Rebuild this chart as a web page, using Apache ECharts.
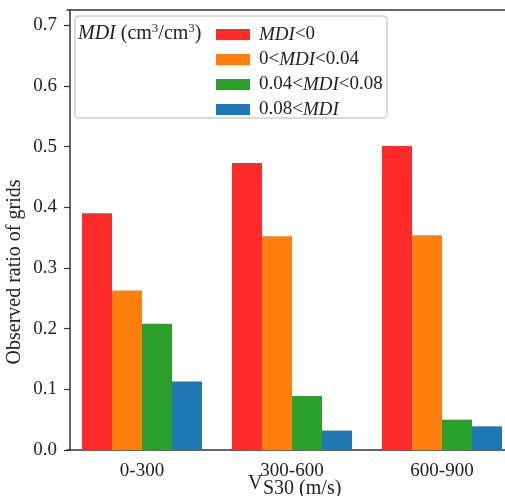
<!DOCTYPE html>
<html><head><meta charset="utf-8">
<script src="https://cdn.jsdelivr.net/npm/echarts@6/dist/echarts.min.js"></script>
<style>html,body{margin:0;padding:0;background:#fff}#c{width:505px;height:496px}</style>
</head><body><div id="c"></div>
<script>
const categories = ['0-300', '300-600', '600-900'];
const seriesNames = ['MDI<0', '0<MDI<0.04', '0.04<MDI<0.08', '0.08<MDI'];
const mdiNeg = [0.390, 0.473, 0.501];
const mdi0to004 = [0.263, 0.352, 0.354];
const mdi004to008 = [0.208, 0.089, 0.050];
const mdiAbove008 = [0.113, 0.032, 0.039];
const colors = ['#ff2a2a', '#ff7f0e', '#2ca02c', '#1f77b4'];
const yTicks = [0, 0.1, 0.2, 0.3, 0.4, 0.5, 0.6, 0.7];

const FONT = '"Liberation Serif", "DejaVu Serif", serif';
const values = [mdiNeg, mdi0to004, mdi004to008, mdiAbove008];
const legendFmt = {
  'MDI<0': '{i|MDI}<0',
  '0<MDI<0.04': '0<{i|MDI}<0.04',
  '0.04<MDI<0.08': '0.04<{i|MDI}<0.08',
  '0.08<MDI': '0.08<{i|MDI}'
};
const chart = echarts.init(document.getElementById('c'), null, {renderer: 'canvas'});
chart.setOption({
  animation: false,
  backgroundColor: '#fff',
  textStyle: {fontFamily: FONT},
  grid: {left: 67, top: 10, width: 450, height: 440, containLabel: false, outerBoundsMode: 'none'},
  xAxis: [{
    type: 'category', data: categories, position: 'bottom',
    axisLine: {lineStyle: {color: '#333', width: 1.5}},
    axisTick: {alignWithLabel: true, length: 6, lineStyle: {color: '#333', width: 1.2}},
    axisLabel: {fontFamily: FONT, fontSize: 19, color: '#222', margin: 12}
  }, {
    type: 'category', data: categories, position: 'top',
    axisLine: {lineStyle: {color: '#333', width: 1.5}},
    axisTick: {show: false}, axisLabel: {show: false}
  }],
  yAxis: {
    type: 'value', min: 0, max: 0.725, interval: 0.1, offset: -3,
    splitLine: {show: false},
    axisLine: {show: true, lineStyle: {color: '#333', width: 1.5}},
    axisTick: {show: true, length: 6, lineStyle: {color: '#333', width: 1.2}},
    axisLabel: {fontFamily: FONT, fontSize: 19, color: '#222', margin: 13, showMaxLabel: false,
      formatter: v => yTicks.some(t => Math.abs(t - v) < 1e-9) ? v.toFixed(1) : ''}
  },
  legend: {
    orient: 'vertical', left: 211, top: 20, icon: 'rect',
    itemWidth: 34, itemHeight: 11, itemGap: 6,
    data: seriesNames,
    formatter: n => legendFmt[n],
    textStyle: {fontFamily: FONT, fontSize: 19, color: '#222', padding: [0, 0, 0, 4],
      rich: {i: {fontFamily: FONT, fontSize: 19, fontStyle: 'italic', color: '#222'}}}
  },
  graphic: [
    {type: 'rect', z: 1, shape: {x: 75, y: 16, width: 312, height: 102, r: 4},
     style: {fill: 'rgba(255,255,255,0.85)', stroke: '#cfcfcf', lineWidth: 1.5}},
    {type: 'text', z: 5, x: 78, y: 22,
     style: {text: '{i|MDI}{n| (cm}{s|3}{n|/cm}{s|3}{n|)}', fontFamily: FONT, fill: '#222',
       verticalAlign: 'top',
       rich: {i: {fontStyle: 'italic', fontSize: 20, lineHeight: 22, fontFamily: FONT, verticalAlign: 'bottom'},
              n: {fontSize: 20, lineHeight: 22, fontFamily: FONT, verticalAlign: 'bottom'},
              s: {fontSize: 13, lineHeight: 12, verticalAlign: 'top', fontFamily: FONT}}}},
    {type: 'text', x: 15, y: 272, rotation: Math.PI / 2,
     style: {text: 'Observed ratio of grids', fontFamily: FONT, fontSize: 20, fill: '#222',
       align: 'center', verticalAlign: 'middle'}},
    {type: 'text', x: 248, y: 484,
     style: {text: 'V', fontFamily: FONT, fontSize: 20, fill: '#222', verticalAlign: 'middle'}},
    {type: 'text', x: 263, y: 489,
     style: {text: 'S30 (m/s)', fontFamily: FONT, fontSize: 20, fill: '#222', verticalAlign: 'middle'}}
  ],
  series: seriesNames.map((n, k) => ({
    name: n, type: 'bar', data: values[k], barWidth: 30, barGap: '0%',
    itemStyle: {color: colors[k]}
  }))
});
</script></body></html>
